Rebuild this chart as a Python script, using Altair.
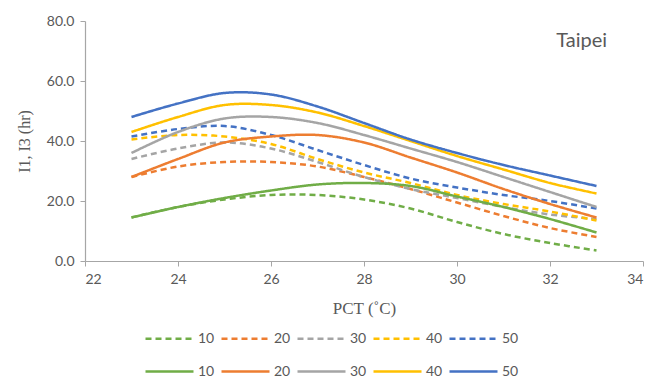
import altair as alt
import pandas as pd

pct = [23, 24, 25, 26, 27, 28, 29, 30, 31, 32, 33]

# dashed series
d10 = [14.5, 18.0, 20.5, 22.0, 22.0, 20.5, 17.5, 13.0, 9.0, 6.0, 3.5]
d20 = [28.0, 31.5, 33.0, 33.0, 31.5, 28.0, 24.0, 19.5, 15.0, 11.0, 8.0]
d30 = [34.0, 37.5, 39.5, 37.5, 33.0, 28.0, 24.0, 21.0, 18.0, 15.5, 14.0]
d40 = [40.5, 42.0, 41.5, 39.0, 34.0, 29.5, 26.0, 22.0, 19.0, 16.5, 13.5]
d50 = [41.5, 44.0, 45.0, 42.0, 37.0, 32.0, 27.5, 24.5, 22.0, 20.0, 17.5]
# solid series
s10 = [14.5, 18.0, 21.0, 23.5, 25.5, 26.0, 25.0, 21.5, 18.0, 14.0, 9.5]
s20 = [28.0, 34.0, 39.5, 41.5, 42.0, 39.5, 34.5, 29.5, 24.0, 19.0, 14.5]
s30 = [36.0, 43.0, 47.5, 48.0, 46.0, 42.0, 37.5, 33.0, 28.0, 23.0, 18.0]
s40 = [43.0, 48.0, 52.0, 52.0, 49.5, 45.0, 40.0, 35.0, 30.5, 26.0, 22.5]
s50 = [48.0, 52.5, 56.0, 55.5, 51.5, 46.0, 40.5, 36.0, 32.0, 28.5, 25.0]

series_names = ["d10", "d20", "d30", "d40", "d50", "s10", "s20", "s30", "s40", "s50"]
series_values = [d10, d20, d30, d40, d50, s10, s20, s30, s40, s50]
palette = ["#70AD47", "#ED7D31", "#A5A5A5", "#FFC000", "#4472C4"]

rows = []
for name, vals in zip(series_names, series_values):
    for x, v in zip(pct, vals):
        rows.append({"PCT": x, "value": v, "series": name})
df = pd.DataFrame(rows)

grey = "#595959"

legend_opts = dict(title=None, orient="none", legendX=59, legendY=292,
                   direction="horizontal", columns=5,
                   symbolType="stroke", symbolSize=2304,
                   symbolStrokeWidth=2.5, labelOffset=3,
                   columnPadding=1, rowPadding=-18,
                   labelFont="Lato", labelFontSize=14, labelColor=grey,
                   labelExpr="substring(datum.label, 1)")

lines = alt.Chart(df).mark_line(strokeWidth=2.5, interpolate="catmull-rom").encode(
    x=alt.X("PCT:Q", scale=alt.Scale(domain=[22, 34], nice=False),
            axis=alt.Axis(values=[22, 24, 26, 28, 30, 32, 34], title="PCT (˚C)",
                          titleFont="Liberation Serif", titleFontSize=17,
                          titleFontWeight="normal", titleColor=grey, titlePadding=14)),
    y=alt.Y("value:Q", scale=alt.Scale(domain=[0, 80], nice=False),
            axis=alt.Axis(values=[0, 20, 40, 60, 80], format=".1f", title="I1, I3 (hr)",
                          titleFont="Liberation Serif", titleFontSize=16,
                          titleFontWeight="normal", titleColor=grey, titlePadding=14)),
    color=alt.Color("series:N",
                    scale=alt.Scale(domain=series_names, range=palette + palette),
                    legend=alt.Legend(**legend_opts)),
    strokeDash=alt.StrokeDash("series:N",
                              scale=alt.Scale(domain=series_names,
                                              range=[[6, 4]] * 5 + [[1, 0]] * 5),
                              legend=alt.Legend(**legend_opts)),
)

label = alt.Chart(pd.DataFrame({"t": ["Taipei"]})).mark_text(
    align="right", baseline="alphabetic", font="Lato", fontSize=20, color=grey
).encode(x=alt.value(522), y=alt.value(26), text="t:N")

chart = alt.layer(lines, label).properties(
    width=558, height=240,
    padding={"left": 8, "top": 6, "right": 5, "bottom": 5},
).configure_view(stroke=None).configure_axis(
    grid=False, domainColor="#A6A6A6", tickColor="#A6A6A6", tickSize=5,
    labelFont="Lato", labelFontSize=14, labelColor=grey, labelPadding=6,
    domainWidth=1.2,
)

chart.save("out.html", embed_options={"renderer": "svg", "actions": False})
